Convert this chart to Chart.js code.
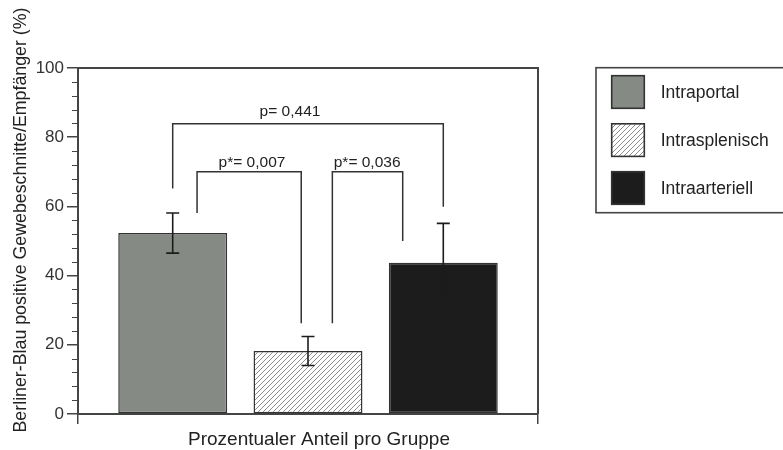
<!DOCTYPE html>
<html><head><meta charset="utf-8">
<script src="https://cdn.jsdelivr.net/npm/chart.js@4.4.0/dist/chart.umd.min.js"></script>
<style>html,body{margin:0;padding:0;background:#fff;}#wrap{width:783px;height:450px;position:relative;}</style>
</head><body><div id="wrap"><canvas id="c" width="783" height="450"></canvas></div>
<script>
// ---- data ----
const categories = ['Intraportal', 'Intrasplenisch', 'Intraarteriell'];
const means = [52.3, 18.2, 43.7];
const errors = [5.8, 4.2, 11.4];
const yTickValues = [0, 20, 40, 60, 80, 100];
const pLabels = ['p= 0,441', 'p*= 0,007', 'p*= 0,036'];
const xTitle = 'Prozentualer Anteil pro Gruppe';
const yTitle = 'Berliner-Blau positive Gewebeschnitte/Empfänger (%)';

// ---- styling / layout ----
const FONT = '"Liberation Sans", Arial, Helvetica, sans-serif';
const GREY = '#868a85';
const BLACK = '#1c1c1c';
const LINE = '#444';

function makeHatch() {
  const c = document.createElement('canvas');
  c.width = 5; c.height = 5;
  const g = c.getContext('2d');
  g.fillStyle = '#fff'; g.fillRect(0, 0, 5, 5);
  g.strokeStyle = '#8c8c8c'; g.lineWidth = 1;
  g.beginPath();
  g.moveTo(0, 5); g.lineTo(5, 0);
  g.moveTo(-1, 1); g.lineTo(1, -1);
  g.moveTo(4, 6); g.lineTo(6, 4);
  g.stroke();
  return g.createPattern(c, 'repeat');
}
const hatch = makeHatch();
const fills = [GREY, hatch, BLACK];

// bracket geometry in data units (x: bar index+1, y: percent)
const bracketLayout = [
  {x1: 1.0, x2: 3.0, top: 83.9, end1: 65.2, end2: 59.9, tx: 1.867, ty: 86.2},
  {x1: 1.18, x2: 1.95, top: 70.0, end1: 58.1, end2: 26.2, tx: 1.586, ty: 71.4},
  {x1: 2.18, x2: 2.70, top: 70.0, end1: 26.2, end2: 50.0, tx: 2.437, ty: 71.4}
];

const overlay = {
  id: 'overlay',
  afterDatasetsDraw(chart) {
    const ctx = chart.ctx, a = chart.chartArea;
    const xs = chart.scales.x, ys = chart.scales.y;
    ctx.save();
    // frame top + right
    ctx.strokeStyle = LINE; ctx.lineWidth = 2;
    ctx.beginPath();
    ctx.moveTo(a.left, a.top); ctx.lineTo(a.right, a.top); ctx.lineTo(a.right, a.bottom);
    ctx.stroke();
    // minor ticks
    ctx.lineWidth = 1.2;
    ctx.beginPath();
    for (let v = 4; v < 100; v += 4) {
      if (v % 20 === 0) continue;
      const py = Math.round(ys.getPixelForValue(v)) + 0.5;
      ctx.moveTo(a.left - 6, py); ctx.lineTo(a.left, py);
    }
    ctx.stroke();
    // error bars
    ctx.strokeStyle = BLACK; ctx.lineWidth = 1.6;
    means.forEach((m, i) => {
      const px = xs.getPixelForValue(i + 1);
      const yt = ys.getPixelForValue(m + errors[i]);
      const yb = ys.getPixelForValue(m - errors[i]);
      ctx.beginPath();
      ctx.moveTo(px, yt); ctx.lineTo(px, yb);
      ctx.moveTo(px - 6.5, yt); ctx.lineTo(px + 6.5, yt);
      ctx.moveTo(px - 6.5, yb); ctx.lineTo(px + 6.5, yb);
      ctx.stroke();
    });
    // significance brackets
    ctx.strokeStyle = '#333'; ctx.lineWidth = 1.5;
    ctx.fillStyle = '#222';
    ctx.font = '15.5px ' + FONT;
    ctx.textAlign = 'center'; ctx.textBaseline = 'alphabetic';
    bracketLayout.forEach((b, i) => {
      const x1 = xs.getPixelForValue(b.x1), x2 = xs.getPixelForValue(b.x2);
      const yt = ys.getPixelForValue(b.top);
      ctx.beginPath();
      ctx.moveTo(x1, ys.getPixelForValue(b.end1));
      ctx.lineTo(x1, yt); ctx.lineTo(x2, yt);
      ctx.lineTo(x2, ys.getPixelForValue(b.end2));
      ctx.stroke();
      ctx.fillText(pLabels[i], xs.getPixelForValue(b.tx), ys.getPixelForValue(b.ty));
    });
    // axis titles
    ctx.fillStyle = '#222';
    ctx.font = '19px ' + FONT;
    ctx.textAlign = 'center'; ctx.textBaseline = 'alphabetic';
    ctx.fillText(xTitle, (a.left + a.right) / 2 + 11, 445);
    ctx.save();
    ctx.translate(21, 220);
    ctx.rotate(-Math.PI / 2);
    ctx.font = '17.8px ' + FONT;
    ctx.textBaseline = 'middle';
    ctx.fillText(yTitle, 0, 0);
    ctx.restore();
    // legend
    ctx.strokeStyle = LINE; ctx.lineWidth = 1.6;
    ctx.strokeRect(596, 67.7, 195, 145);
    const tops = [75.7, 123.8, 171.7];
    ctx.font = '17.5px ' + FONT;
    ctx.textAlign = 'left'; ctx.textBaseline = 'middle';
    categories.forEach((name, i) => {
      ctx.fillStyle = fills[i];
      ctx.fillRect(611.7, tops[i], 32.6, 32.6);
      ctx.strokeStyle = '#333'; ctx.lineWidth = 1.6;
      ctx.strokeRect(611.7, tops[i], 32.6, 32.6);
      ctx.fillStyle = '#222';
      ctx.fillText(name, 660.7, tops[i] + 17);
    });
    ctx.restore();
  }
};

new Chart(document.getElementById('c'), {
  type: 'bar',
  data: {
    datasets: [{
      label: 'Anteil',
      data: means.map((m, i) => ({x: i + 1, y: m})),
      backgroundColor: fills,
      borderColor: '#333',
      borderWidth: 1.5,
      borderSkipped: false,
      barPercentage: 0.805,
      categoryPercentage: 1.0
    }]
  },
  options: {
    responsive: false,
    animation: false,
    devicePixelRatio: 1,
    layout: {padding: {left: 0, top: 68, right: 245, bottom: 0}},
    plugins: {legend: {display: false}, tooltip: {enabled: false}},
    scales: {
      x: {
        type: 'linear', min: 0.3, max: 3.7, offset: false,
        afterBuildTicks: s => { s.ticks = [{value: 0.3}, {value: 3.7}]; },
        ticks: {callback: () => '', padding: 0},
        grid: {display: true, offset: false, drawOnChartArea: false, drawTicks: true, tickLength: 10, color: LINE, lineWidth: 1.5},
        border: {display: true, color: LINE, width: 2},
        afterFit: s => { s.height = 36; }
      },
      y: {
        type: 'linear', min: 0, max: 100,
        afterBuildTicks: s => { s.ticks = yTickValues.map(v => ({value: v})); },
        ticks: {font: {family: FONT, size: 17}, color: '#333', padding: 3},
        grid: {drawOnChartArea: false, tickLength: 11, color: LINE, lineWidth: 1.5},
        border: {display: true, color: LINE, width: 2},
        afterFit: s => { s.width = 78; }
      }
    }
  },
  plugins: [overlay]
});
</script></body></html>
